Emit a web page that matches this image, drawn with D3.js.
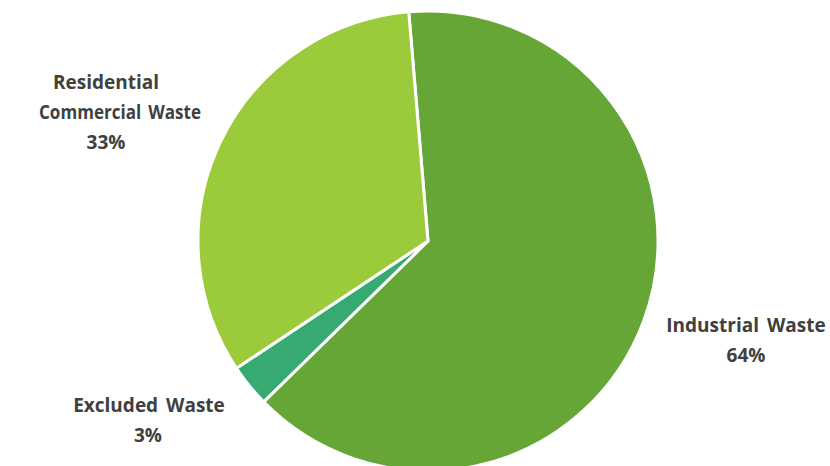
<!DOCTYPE html>
<html>
<head>
<meta charset="utf-8">
<script src="https://cdn.jsdelivr.net/npm/d3@7"></script>
<style>
  html, body { margin: 0; padding: 0; background: #fff; }
  svg { display: block; }
  .lbl { font-family: "Open Sans", Lato, sans-serif; font-weight: bold; fill: #404040; word-spacing: 3px; }
</style>
</head>
<body>
<svg id="chart" width="830" height="466"></svg>
<script>
// Waste composition shares (percent)
const categories = ["Industrial Waste", "Excluded Waste", "Residential Commercial Waste"];
const shares = [64, 3, 33];
const colors = ["#65a637", "#37aa72", "#9bcb3b"];
// Label text lines for each slice
const labelLines = [
  ["Industrial Waste", "64%"],
  ["Excluded Waste", "3%"],
  ["Residential", "Commercial Waste", "33%"]
];
// Label placement (line centres and first baseline) beside each slice
const labelPos = [
  { x: [746, 746], y: 332 },
  { x: [149, 148], y: 412 },
  { x: [106, 120, 106], y: 89 }
];

const W = 830, H = 466;
const cx = 428, cy = 241, R = 230;
const svg = d3.select("#chart");

const startDeg = -4.8;
const pie = d3.pie().sort(null).value(d => d)
  .startAngle(startDeg * Math.PI / 180)
  .endAngle((startDeg + 360) * Math.PI / 180);
const arc = d3.arc().innerRadius(0).outerRadius(R);

const g = svg.append("g").attr("transform", `translate(${cx},${cy})`);
g.selectAll("path")
  .data(pie(shares))
  .join("path")
  .attr("d", arc)
  .attr("fill", (d, i) => colors[i])
  .attr("stroke", "#fff")
  .attr("stroke-width", 3)
  .attr("stroke-linejoin", "miter");

const lineH = 30;
labelLines.forEach((lines, i) => {
  const t = svg.append("text").attr("class", "lbl").attr("font-size", 19)
    .attr("text-anchor", "middle");
  lines.forEach((s, j) => {
    const ts = t.append("tspan").attr("x", labelPos[i].x[j]).attr("y", labelPos[i].y + j * lineH).text(s);
    // keep the long middle line of the wrapped label compact
    if (s === "Commercial Waste") ts.attr("textLength", 162).attr("lengthAdjust", "spacingAndGlyphs");
  });
});
</script>
</body>
</html>
